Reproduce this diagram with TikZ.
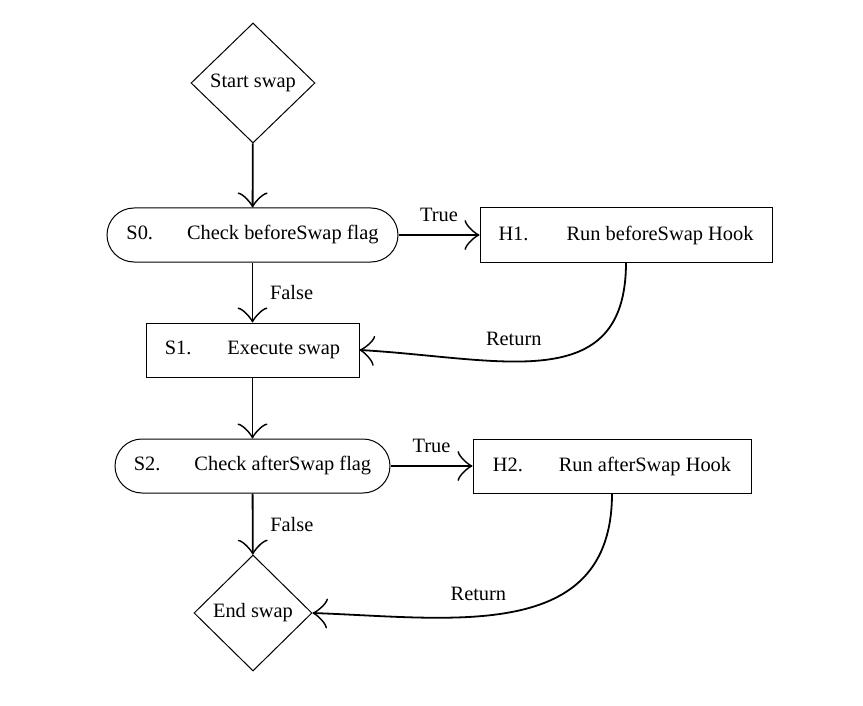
\documentclass[tikz,border=0pt]{standalone}
\usepackage{fontspec}
\setmainfont{Liberation Serif}
\usetikzlibrary{shapes.geometric,arrows.meta}

\begin{document}
\begin{tikzpicture}[x=0.5pt,y=-0.5pt,
  font=\fontsize{10.2}{12}\selectfont,
  decision/.style={diamond,draw,line width=0.5pt,inner sep=0pt,minimum width=62pt,minimum height=60pt},
  state/.style={draw,line width=0.5pt,rounded corners=13.5pt,minimum height=27pt},
  hookbox/.style={draw,line width=0.5pt,minimum height=27pt},
  flow/.style={line width=0.9pt,-{Classical TikZ Rightarrow[length=7.5pt,width=15pt]}}]
\useasboundingbox (0,0) rectangle (863,706);
% main column
\node[decision] (start) at (253,83) {Start swap};
\node[state,minimum width=145.5pt] (s0) at (252.5,235) {S0.\hskip 17pt Check beforeSwap flag};
\node[hookbox,minimum width=106.5pt] (s1) at (252.5,350) {S1.\hskip 18pt Execute swap};
\node[state,minimum width=137.5pt] (s2) at (252.5,466) {S2.\hskip 17pt Check afterSwap flag};
\node[decision,minimum width=59pt,minimum height=58pt] (end) at (253,613) {End swap};
% hooks
\node[hookbox,minimum width=146pt] (h1) at (626,235) {H1.\hskip 19pt Run beforeSwap Hook};
\node[hookbox,minimum width=139pt] (h2) at (612,466) {H2.\hskip 18pt Run afterSwap Hook};

\draw[flow] (start) -- (s0);
\draw[flow] (s0) -- node[above=3pt] {True} (h1);
\draw[flow] (s0) -- node[right=5pt] {False} (s1);
\draw[flow] (h1.south) .. controls +(0,135) and +(140,8) .. (s1.east)
  node[pos=0.6,above=4pt] {Return};
\draw[flow] (s1) -- (s2);
\draw[flow] (s2) -- node[above=3pt] {True} (h2);
\draw[flow] (s2) -- node[right=5pt] {False} (end);
\draw[flow] (h2.south) .. controls +(0,150) and +(140,5) .. (end.east)
  node[pos=0.6,above=4pt] {Return};
\end{tikzpicture}
\end{document}
